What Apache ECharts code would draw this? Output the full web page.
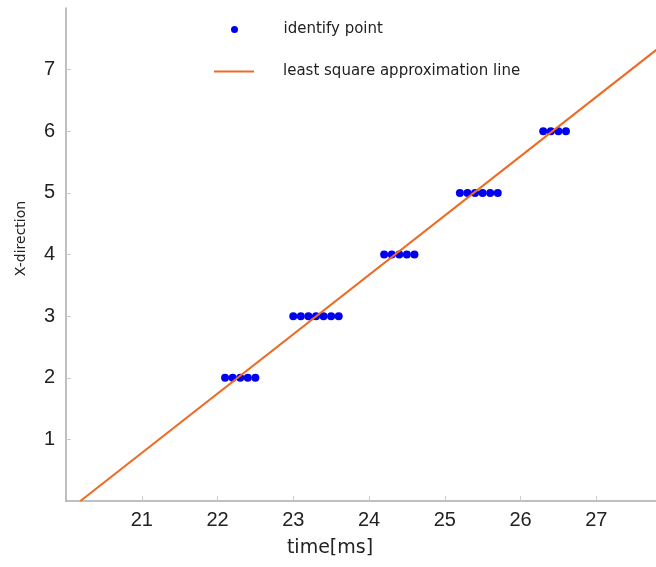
<!DOCTYPE html>
<html>
<head>
<meta charset="utf-8">
<script src="https://cdn.jsdelivr.net/npm/echarts@6/dist/echarts.min.js"></script>
<style>html,body{margin:0;padding:0;background:#fff}#c{width:656px;height:567px}</style>
</head>
<body>
<div id="c"></div>
<script>
// identified points (time [ms], x-direction)
const pointTimes = [22.1,22.2,22.3,22.4,22.5, 23.0,23.1,23.2,23.3,23.4,23.5,23.6, 24.2,24.3,24.4,24.5,24.6, 25.2,25.3,25.4,25.5,25.6,25.7, 26.3,26.4,26.5,26.6];
const pointX =     [2,2,2,2,2, 3,3,3,3,3,3,3, 4,4,4,4,4, 5,5,5,5,5,5, 6,6,6,6];
// least square approximation line endpoints
const lineTimes = [20.19, 28];
const lineX = [0, 7.52];
const seriesNames = ['identify point', 'least square approximation line'];

const font = '"DejaVu Sans", "Noto Sans", sans-serif';
const numFont = '"Liberation Sans", sans-serif';
const legendText = { fontFamily: font, fontSize: 15, color: '#222', padding: [0,0,0,24] };
const chart = echarts.init(document.getElementById('c'));
chart.setOption({
  animation: false,
  backgroundColor: '#fff',
  textStyle: { fontFamily: font },
  legend: [{
    orient: 'vertical', left: 226, top: 17,
    itemWidth: 40, itemHeight: 7,
    textStyle: legendText,
    itemStyle: { color: '#0000ee', opacity: 1 },
    data: [{ name: seriesNames[0], icon: 'circle' }]
  }, {
    orient: 'vertical', left: 209, top: 59,
    itemWidth: 40, itemHeight: 2,
    textStyle: legendText,
    data: [{ name: seriesNames[1], icon: 'rect' }]
  }],
  grid: { left: 66, right: -16, top: 8, bottom: 66, outerBoundsMode: 'none', containLabel: false },
  xAxis: {
    type: 'value', min: 20, max: 28, interval: 1,
    name: 'time[ms]', nameLocation: 'middle', nameGap: 38,
    nameTextStyle: { fontSize: 19, color: '#222', fontFamily: font, padding: [0, 78, 0, 0] },
    axisLine: { lineStyle: { color: '#aaa', width: 1.5 } },
    axisTick: { inside: true, length: 5, lineStyle: { color: '#ccc' } },
    axisLabel: { fontSize: 20, color: '#222', margin: 9, showMinLabel: false, fontFamily: numFont },
    splitLine: { show: false }
  },
  yAxis: {
    type: 'value', min: 0, max: 8, interval: 1,
    name: 'X-direction', nameLocation: 'middle', nameGap: 38,
    nameTextStyle: { fontSize: 14, color: '#222', fontFamily: font, padding: [0, 0, 0, 32] },
    axisLine: { show: true, lineStyle: { color: '#aaa', width: 1.5 } },
    axisTick: { show: true, inside: true, length: 5, lineStyle: { color: '#ccc' } },
    axisLabel: { fontSize: 20, color: '#222', margin: 11, showMinLabel: false, showMaxLabel: false, fontFamily: numFont },
    splitLine: { show: false }
  },
  series: [
    {
      name: seriesNames[0], type: 'scatter', symbol: 'circle', symbolSize: 8,
      itemStyle: { color: '#0000ee', opacity: 1 },
      data: pointTimes.map((t, i) => [t, pointX[i]]), z: 2
    },
    {
      name: seriesNames[1], type: 'line', showSymbol: false, symbol: 'none',
      lineStyle: { color: '#ee6a22', width: 2 }, itemStyle: { color: '#ee6a22' },
      data: lineTimes.map((t, i) => [t, lineX[i]]), z: 3
    }
  ]
});
</script>
</body>
</html>
